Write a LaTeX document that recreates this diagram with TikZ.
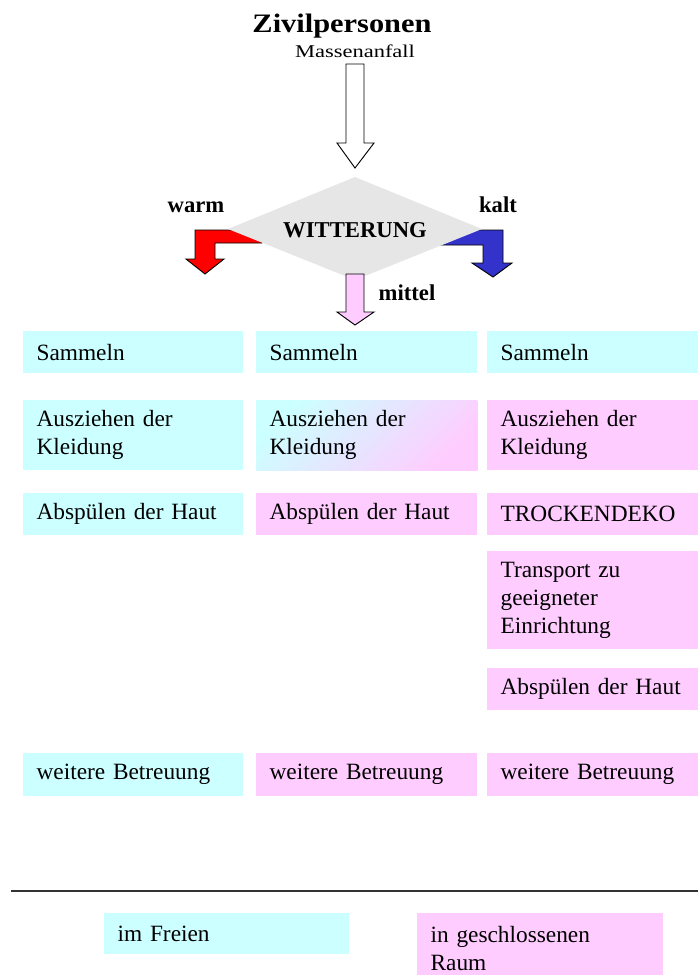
\documentclass[tikz,border=0pt]{standalone}
\usepackage{fontspec}
\setmainfont{Liberation Serif}
\definecolor{hellcyan}{HTML}{CCFFFF}
\definecolor{hellrosa}{HTML}{FFCCFF}
\definecolor{rautegrau}{HTML}{E6E6E6}
\definecolor{kaltblau}{HTML}{3333CC}

\begin{document}
\begin{tikzpicture}[x=0.75pt,y=-0.75pt,
    frei/.style={fill=hellcyan},
    raum/.style={fill=hellrosa},
    feld/.style={anchor=north west, inner xsep=10pt, inner ysep=0pt,
      align=left, text width=#1, font=\fontsize{17.5}{21}\selectfont},
    lbl/.style={anchor=base, font=\bfseries\fontsize{17}{20}\selectfont},
    pfeil/.style={draw=black, line width=0.7pt, line join=miter}]
    \useasboundingbox (0,0) rectangle (698,975);

    % Kopf
    \node[anchor=base, font=\bfseries\fontsize{20}{24}\selectfont] (titel) at (342,32)
        {\scalebox{1.14}[1]{Zivilpersonen}};
    \node[anchor=base, font=\fontsize{13.5}{16}\selectfont] (anfall) at (355,57)
        {\scalebox{1.25}[1]{Massenanfall}};

    % Pfeil nach unten
    \draw[pfeil, fill=white] (346,64) -- (364,64) -- (364,143) -- (374,143) -- (355,168)
        -- (337,143) -- (346,143) -- cycle;

    % Abzweigungen warm / kalt
    \draw[pfeil, fill=red] (262,230) -- (195,230) -- (195,259) -- (186,259) -- (205,274)
        -- (224,259) -- (215,259) -- (215,243) -- (262,243) -- cycle;
    \draw[pfeil, fill=kaltblau] (440,230) -- (503,230) -- (503,263) -- (512,263) -- (493,277)
        -- (472,263) -- (483,263) -- (483,245) -- (440,245) -- cycle;

    % Raute
    \coordinate (RO) at (355,177);
    \coordinate (RR) at (482,229);
    \coordinate (RU) at (355,280);
    \coordinate (RL) at (228,229);
    \fill[rautegrau] (RO) -- (RR) -- (RU) -- (RL) -- cycle;
    \node[font=\bfseries\fontsize{17}{20}\selectfont] (witterung) at (355,230) {WITTERUNG};

    % mittel
    \draw[pfeil, fill=hellrosa] (346,274) -- (364,274) -- (364,312) -- (374,312) -- (355,325)
        -- (337,312) -- (346,312) -- cycle;

    \node[lbl] (warm) at (196,212) {warm};
    \node[lbl] (kalt) at (498,212) {kalt};
    \node[lbl] (mittel) at (407,300) {mittel};

    % Spalte warm
    \node[feld=145pt, frei, minimum height=31.5pt] (w1) at (23,331) {Sammeln};
    \node[feld=145pt, frei, minimum height=52.5pt] (w2) at (23,400) {Ausziehen der\\Kleidung};
    \node[feld=145pt, frei, minimum height=31.5pt] (w3) at (23,493) {Abspülen der Haut};
    \node[feld=145pt, frei, minimum height=32.25pt] (w4) at (23,753) {weitere Betreuung};

    % Spalte mittel
    \node[feld=145.75pt, frei, minimum height=31.5pt] (m1) at (256,331) {Sammeln};
    \node[feld=145.75pt, top color=hellcyan, bottom color=hellrosa, shading angle=45,
        minimum height=52.5pt] (m2) at (256,400) {Ausziehen der\\Kleidung};
    \node[feld=145.75pt, raum, minimum height=31.5pt] (m3) at (256,493) {Abspülen der Haut};
    \node[feld=145.75pt, raum, minimum height=32.25pt] (m4) at (256,753) {weitere Betreuung};

    % Spalte kalt
    \node[feld=138.25pt, frei, minimum height=31.5pt] (k1) at (487,331) {Sammeln};
    \node[feld=138.25pt, raum, minimum height=52.5pt] (k2) at (487,400) {Ausziehen der\\Kleidung};
    \node[feld=138.25pt, raum, minimum height=31.5pt] (k3) at (487,493) {TROCKENDEKO};
    \node[feld=138.25pt, raum, minimum height=73.5pt] (k4) at (487,551) {Transport zu\\geeigneter\\Einrichtung};
    \node[feld=138.25pt, raum, minimum height=31.5pt] (k5) at (487,668) {Abspülen der Haut};
    \node[feld=138.25pt, raum, minimum height=32.25pt] (k6) at (487,753) {weitere Betreuung};

    % Legende
    \coordinate (LA) at (11,891);
    \coordinate (LB) at (698,891);
    \draw[line width=1.5pt, black!80] (LA) -- (LB);
    \node[feld=163.75pt, frei, minimum height=30.75pt] (freien) at (104,913) {im Freien};
    \node[feld=164.5pt, raum, minimum height=53.25pt] (raum) at (417,913) {in geschlossenen\\Raum};
\end{tikzpicture}
\end{document}
